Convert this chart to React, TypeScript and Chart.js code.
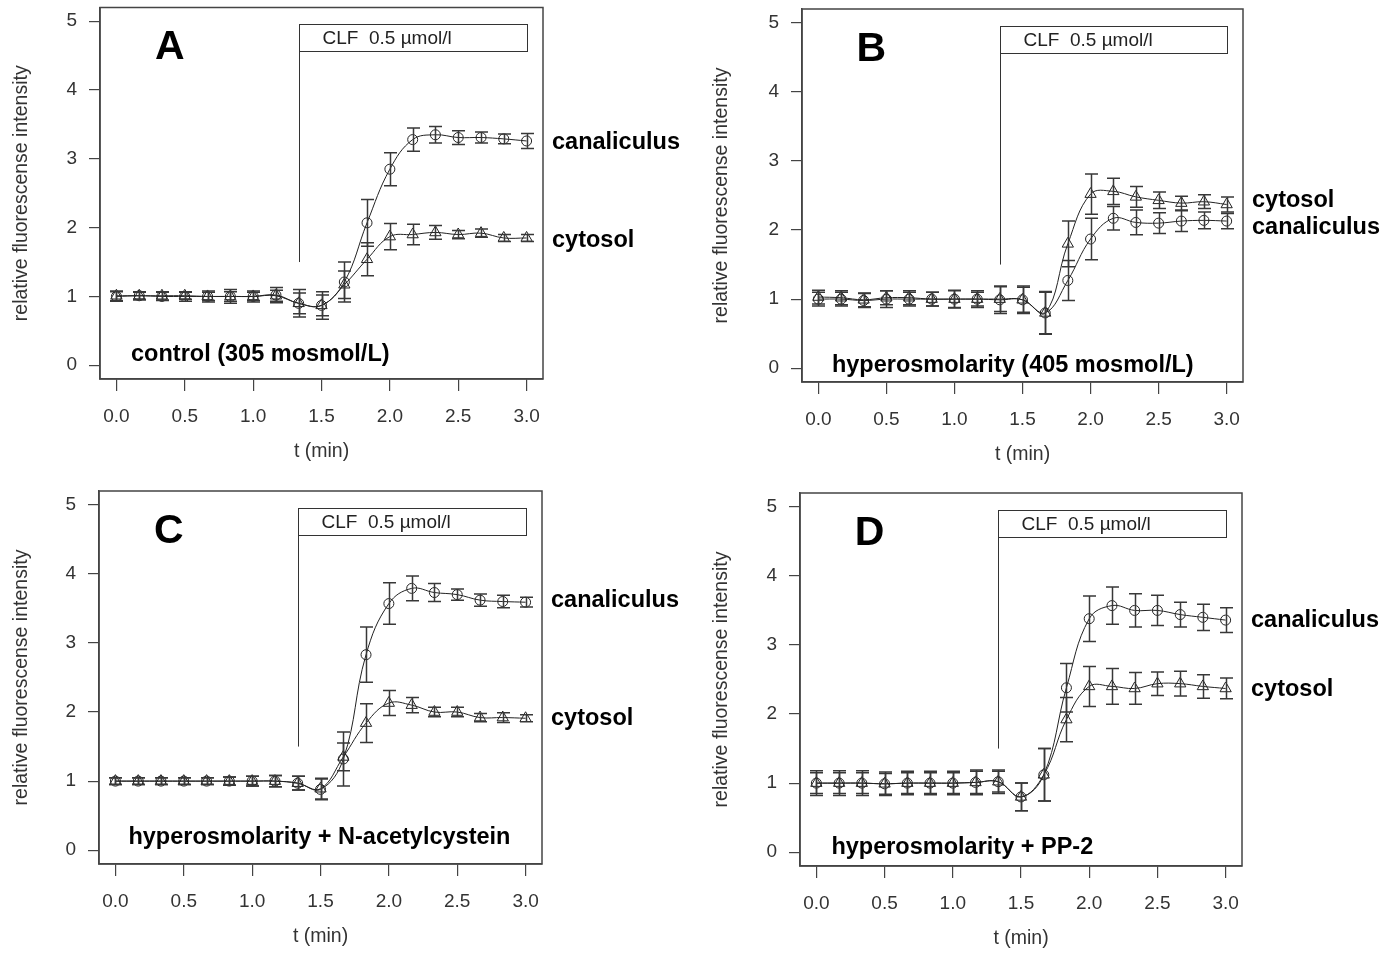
import React, { useEffect, useRef } from 'react';
import { Chart, registerables } from 'chart.js';

Chart.register(...registerables);

const FONT = "'Liberation Sans', Arial, Helvetica, sans-serif";

// time points (min)
const times = [0, 0.167, 0.333, 0.5, 0.667, 0.833, 1.0, 1.167, 1.333, 1.5, 1.667, 1.833, 2.0, 2.167, 2.333, 2.5, 2.667, 2.833, 3.0];
const xTickValues = [0, 0.5, 1.0, 1.5, 2.0, 2.5, 3.0];
const yTickValues = [0, 1, 2, 3, 4, 5];

// Panel A – control (305 mosmol/L)
const aCanal = [1.0, 1.01, 1.0, 1.0, 1.0, 1.0, 1.0, 1.02, 0.9, 0.87, 1.21, 2.07, 2.85, 3.28, 3.35, 3.31, 3.31, 3.29, 3.26];
const aCanalErr = [0.07, 0.06, 0.06, 0.07, 0.08, 0.1, 0.08, 0.11, 0.2, 0.2, 0.29, 0.34, 0.24, 0.17, 0.12, 0.1, 0.08, 0.07, 0.11];
const aCyto = [1.01, 1.01, 1.01, 1.01, 1.0, 1.0, 1.0, 1.01, 0.9, 0.87, 1.17, 1.54, 1.87, 1.9, 1.93, 1.9, 1.92, 1.85, 1.85];
const aCytoErr = [0.07, 0.05, 0.06, 0.05, 0.06, 0.07, 0.06, 0.08, 0.15, 0.15, 0.2, 0.24, 0.19, 0.15, 0.1, 0.06, 0.06, 0.05, 0.05];

// Panel B – hyperosmolarity (405 mosmol/L)
const bCanal = [1.0, 1.0, 0.98, 1.0, 1.0, 1.0, 1.0, 1.0, 0.99, 0.99, 0.8, 1.27, 1.87, 2.17, 2.11, 2.1, 2.13, 2.14, 2.13];
const bCanalErr = [0.1, 0.1, 0.1, 0.12, 0.1, 0.1, 0.13, 0.12, 0.2, 0.2, 0.31, 0.29, 0.3, 0.17, 0.18, 0.15, 0.15, 0.12, 0.11];
const bCyto = [1.03, 1.02, 0.99, 1.02, 1.02, 1.0, 1.0, 1.0, 1.0, 0.99, 0.8, 1.8, 2.52, 2.56, 2.48, 2.43, 2.39, 2.41, 2.37];
const bCytoErr = [0.1, 0.1, 0.1, 0.1, 0.1, 0.1, 0.12, 0.1, 0.18, 0.18, 0.3, 0.33, 0.29, 0.19, 0.15, 0.12, 0.1, 0.1, 0.11];

// Panel C – hyperosmolarity + N-acetylcystein
const cCanal = [1.0, 1.0, 1.0, 1.0, 1.0, 1.0, 1.0, 1.0, 0.97, 0.88, 1.32, 2.83, 3.57, 3.79, 3.73, 3.7, 3.62, 3.6, 3.59];
const cCanalErr = [0.05, 0.05, 0.05, 0.05, 0.05, 0.06, 0.07, 0.08, 0.1, 0.15, 0.39, 0.4, 0.3, 0.18, 0.13, 0.08, 0.09, 0.09, 0.07];
const cCyto = [1.0, 1.0, 1.0, 1.0, 1.0, 1.0, 1.0, 1.0, 0.97, 0.89, 1.35, 1.84, 2.13, 2.1, 2.0, 2.0, 1.92, 1.92, 1.91];
const cCytoErr = [0.05, 0.05, 0.05, 0.05, 0.05, 0.06, 0.07, 0.08, 0.1, 0.15, 0.2, 0.28, 0.18, 0.11, 0.07, 0.07, 0.06, 0.07, 0.05];

// Panel D – hyperosmolarity + PP-2
const dCanal = [1.0, 1.0, 1.0, 0.99, 1.0, 1.0, 1.0, 1.01, 1.02, 0.8, 1.12, 2.38, 3.38, 3.57, 3.5, 3.5, 3.44, 3.4, 3.36];
const dCanalErr = [0.18, 0.18, 0.18, 0.17, 0.17, 0.17, 0.17, 0.18, 0.17, 0.2, 0.38, 0.35, 0.33, 0.27, 0.24, 0.22, 0.18, 0.19, 0.18];
const dCyto = [1.0, 1.0, 1.0, 0.99, 1.0, 1.0, 1.0, 1.01, 1.02, 0.8, 1.12, 1.92, 2.4, 2.4, 2.37, 2.44, 2.44, 2.4, 2.37];
const dCytoErr = [0.15, 0.15, 0.15, 0.15, 0.15, 0.15, 0.15, 0.16, 0.15, 0.2, 0.38, 0.32, 0.29, 0.26, 0.23, 0.17, 0.18, 0.17, 0.15];

// CLF application marker (data units)
const clfStart = 1.333;
const clfEnd = 3.0;
const clfBoxTop = 4.96;
const clfBoxBottom = 4.57;
const clfLineEnd = 1.5;

type Label = { text: string; y: number };
type PanelCfg = {
  letter: string;
  subtitle: string;
  subX: number;
  subY: number;
  canal: number[];
  canalErr: number[];
  cyto: number[];
  cytoErr: number[];
  labels: Label[];
  left: number;
  top: number;
  width: number;
  height: number;
  box: { l: number; r: number; t: number; b: number };
};

const panels: PanelCfg[] = [
  {
    letter: 'A', subtitle: 'control (305 mosmol/L)', subX: 0.107, subY: 0.16,
    canal: aCanal, canalErr: aCanalErr, cyto: aCyto, cytoErr: aCytoErr,
    labels: [{ text: 'canaliculus', y: 3.24 }, { text: 'cytosol', y: 1.82 }],
    left: 0, top: 0, width: 700, height: 477, box: { l: 100, r: 543, t: 7, b: 379 },
  },
  {
    letter: 'B', subtitle: 'hyperosmolarity (405 mosmol/L)', subX: 0.1, subY: 0.04,
    canal: bCanal, canalErr: bCanalErr, cyto: bCyto, cytoErr: bCytoErr,
    labels: [{ text: 'cytosol', y: 2.43 }, { text: 'canaliculus', y: 2.04 }],
    left: 700, top: 0, width: 698, height: 477, box: { l: 102, r: 543, t: 9, b: 382 },
  },
  {
    letter: 'C', subtitle: 'hyperosmolarity + N-acetylcystein', subX: 0.095, subY: 0.19,
    canal: cCanal, canalErr: cCanalErr, cyto: cCyto, cytoErr: cCytoErr,
    labels: [{ text: 'canaliculus', y: 3.62 }, { text: 'cytosol', y: 1.91 }],
    left: 0, top: 477, width: 700, height: 477, box: { l: 99, r: 542, t: 14, b: 387 },
  },
  {
    letter: 'D', subtitle: 'hyperosmolarity + PP-2', subX: 0.11, subY: 0.07,
    canal: dCanal, canalErr: dCanalErr, cyto: dCyto, cytoErr: dCytoErr,
    labels: [{ text: 'canaliculus', y: 3.36 }, { text: 'cytosol', y: 2.35 }],
    left: 700, top: 477, width: 698, height: 477, box: { l: 100, r: 542, t: 16, b: 389 },
  },
];

function Panel({ cfg }: { cfg: PanelCfg }) {
  const ref = useRef<HTMLCanvasElement>(null);

  useEffect(() => {
    const canvas = ref.current;
    if (!canvas) return;
    const { box } = cfg;
    const yW = box.l;
    const xH = cfg.height - box.b;

    const toPoints = (vals: number[]) => vals.map((v, i) => ({ x: times[i], y: v }));

    const errPlugin = {
      id: 'errbars',
      afterDatasetsDraw(chart: any) {
        const { ctx, scales } = chart;
        const x = scales.x;
        const y = scales.y;
        ctx.save();
        ctx.strokeStyle = '#383838';
        ctx.lineWidth = 1.5;
        const sets: [number[], number[]][] = [[cfg.canal, cfg.canalErr], [cfg.cyto, cfg.cytoErr]];
        sets.forEach(([vals, errs]) => {
          vals.forEach((v, i) => {
            const px = Math.round(x.getPixelForValue(times[i])) + 0.5;
            const y1 = y.getPixelForValue(v + errs[i]);
            const y2 = y.getPixelForValue(v - errs[i]);
            ctx.beginPath();
            ctx.moveTo(px, y1);
            ctx.lineTo(px, y2);
            ctx.moveTo(px - 6.5, y1);
            ctx.lineTo(px + 6.5, y1);
            ctx.moveTo(px - 6.5, y2);
            ctx.lineTo(px + 6.5, y2);
            ctx.stroke();
          });
        });
        ctx.restore();
      },
    };

    const annPlugin = {
      id: 'ann',
      afterDraw(chart: any) {
        const { ctx, chartArea: ca, scales } = chart;
        const x = scales.x;
        const y = scales.y;
        ctx.save();
        ctx.strokeStyle = '#444';
        ctx.lineWidth = 1.5;
        ctx.strokeRect(ca.left, ca.top, ca.right - ca.left, ca.bottom - ca.top);

        const x0 = Math.round(x.getPixelForValue(clfStart)) + 0.5;
        const x1 = Math.round(x.getPixelForValue(clfEnd)) + 0.5;
        const yT = Math.round(y.getPixelForValue(clfBoxTop)) + 0.5;
        const yB = Math.round(y.getPixelForValue(clfBoxBottom)) + 0.5;
        const yL = y.getPixelForValue(clfLineEnd);
        ctx.strokeStyle = '#333';
        ctx.lineWidth = 1;
        ctx.strokeRect(x0, yT, x1 - x0, yB - yT);
        ctx.beginPath();
        ctx.moveTo(x0, yB);
        ctx.lineTo(x0, yL);
        ctx.stroke();

        ctx.fillStyle = '#222';
        ctx.textBaseline = 'middle';
        ctx.textAlign = 'left';
        ctx.font = `19px ${FONT}`;
        ctx.fillText('CLF  0.5 µmol/l', x0 + 23, (yT + yB) / 2 + 1);

        ctx.fillStyle = '#000';
        ctx.textAlign = 'center';
        ctx.font = `bold 41px ${FONT}`;
        ctx.fillText(cfg.letter, x.getPixelForValue(0.39), y.getPixelForValue(4.64) + 2);

        ctx.textAlign = 'left';
        ctx.font = `bold 23.5px ${FONT}`;
        ctx.fillText(cfg.subtitle, x.getPixelForValue(cfg.subX), y.getPixelForValue(cfg.subY));

        cfg.labels.forEach((l) => {
          ctx.fillText(l.text, ca.right + 9, y.getPixelForValue(l.y));
        });
        ctx.restore();
      },
    };

    const chart = new Chart(canvas, {
      type: 'line',
      data: {
        datasets: [
          {
            label: 'canaliculus',
            data: toPoints(cfg.canal),
            borderColor: '#222',
            borderWidth: 1,
            pointStyle: 'circle',
            pointRadius: 5,
            pointBorderColor: '#222',
            pointBackgroundColor: 'rgba(0,0,0,0)',
            pointBorderWidth: 1,
            tension: 0.4,
            fill: false,
          },
          {
            label: 'cytosol',
            data: toPoints(cfg.cyto),
            borderColor: '#222',
            borderWidth: 1,
            pointStyle: 'triangle',
            pointRadius: 6.5,
            pointBorderColor: '#222',
            pointBackgroundColor: 'rgba(0,0,0,0)',
            pointBorderWidth: 1,
            tension: 0.4,
            fill: false,
          },
        ],
      },
      options: {
        responsive: false,
        animation: false,
        layout: { padding: { left: 0, top: box.t, right: cfg.width - box.r, bottom: 0 } },
        plugins: { legend: { display: false }, tooltip: { enabled: false } },
        scales: {
          x: {
            type: 'linear',
            min: -0.12,
            max: 3.12,
            afterBuildTicks: (s: any) => {
              s.ticks = xTickValues.map((v) => ({ value: v }));
            },
            afterFit: (s: any) => {
              s.height = xH;
              s.paddingLeft = 0;
              s.paddingRight = 0;
            },
            ticks: {
              callback: (v: any) => Number(v).toFixed(1),
              font: { family: FONT, size: 19 },
              color: '#333',
              padding: 14,
              maxRotation: 0,
              autoSkip: false,
            },
            grid: { drawOnChartArea: false, drawTicks: true, tickLength: 12, color: '#444', lineWidth: 1.2 },
            border: { display: true, color: '#444', width: 1.5 },
            title: {
              display: true,
              text: 't (min)',
              font: { family: FONT, size: 19.5 },
              color: '#333',
              padding: { top: 0, bottom: xH - 73 - 11.7 },
            },
          },
          y: {
            type: 'linear',
            min: -0.2,
            max: 5.2,
            afterBuildTicks: (s: any) => {
              s.ticks = yTickValues.map((v) => ({ value: v }));
            },
            afterFit: (s: any) => {
              s.width = yW;
              s.paddingTop = 0;
              s.paddingBottom = 0;
            },
            ticks: {
              callback: (v: any) => String(v),
              font: { family: FONT, size: 19 },
              color: '#333',
              padding: 12,
            },
            grid: { drawOnChartArea: false, drawTicks: true, tickLength: 11, color: '#444', lineWidth: 1.2 },
            border: { display: true, color: '#444', width: 1.5 },
            title: {
              display: true,
              text: 'relative fluorescense intensity',
              font: { family: FONT, size: 19.5 },
              color: '#333',
              padding: { top: 10, bottom: 0 },
            },
          },
        },
      },
      plugins: [errPlugin, annPlugin],
    } as any);

    return () => chart.destroy();
  }, [cfg]);

  return (
    <canvas
      ref={ref}
      width={cfg.width}
      height={cfg.height}
      style={{ position: 'absolute', left: cfg.left, top: cfg.top, width: cfg.width, height: cfg.height }}
    />
  );
}

export default function App() {
  return (
    <div style={{ position: 'fixed', left: 0, top: 0, width: 1398, height: 954, background: '#fff' }}>
      {panels.map((p) => (
        <Panel key={p.letter} cfg={p} />
      ))}
    </div>
  );
}
